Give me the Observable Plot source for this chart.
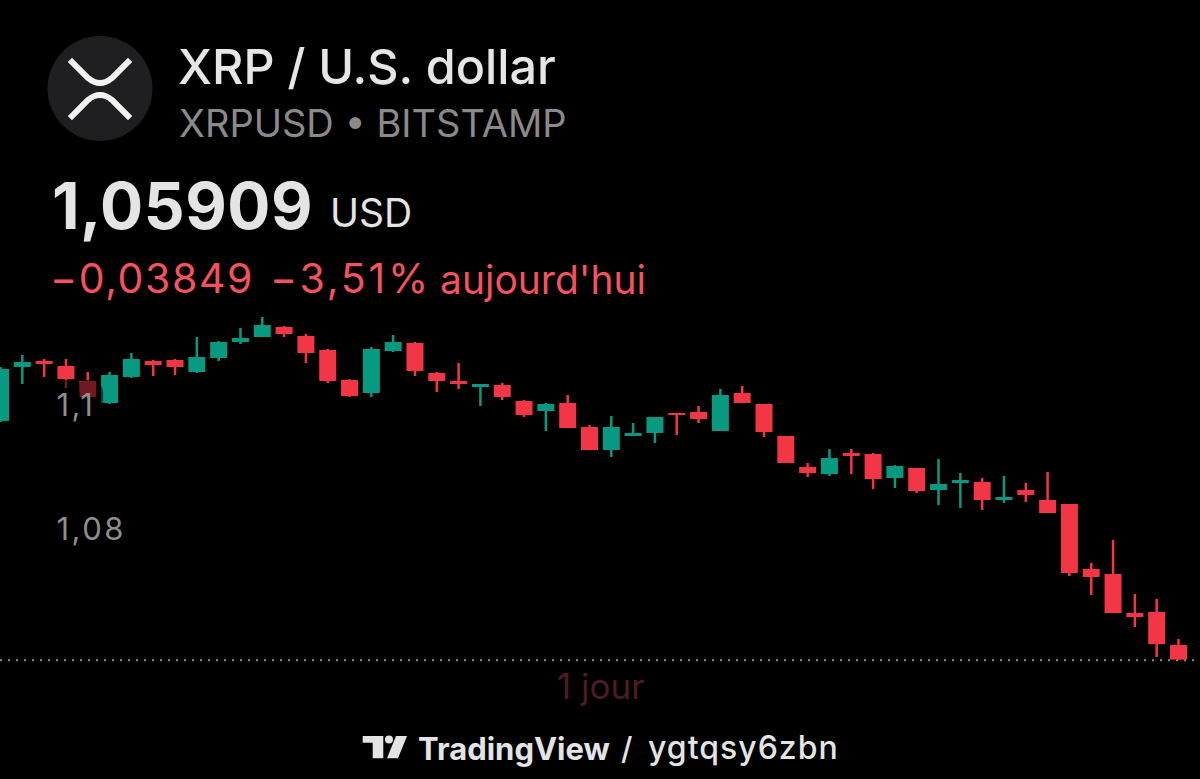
<!DOCTYPE html>
<html>
<head>
<meta charset="utf-8">
<script src="https://cdn.jsdelivr.net/npm/d3@7"></script>
<script src="https://cdn.jsdelivr.net/npm/@observablehq/plot@0.6"></script>
<style>
  html, body { margin: 0; padding: 0; background: #000; }
  body { width: 1200px; height: 779px; position: relative; overflow: hidden; font-family: Inter, "Noto Sans", sans-serif; }
  .abs { position: absolute; line-height: 1; white-space: nowrap; }
  #title { left: 178px; top: 43px; font-size: 48.5px; font-weight: 500; color: #e6e6e6; }
  #sub { left: 179px; top: 104px; font-size: 38px; font-weight: 400; color: #8a8a8a; }
  #price { left: 52px; top: 174px; font-size: 64px; font-weight: 700; color: #e4e4e4; letter-spacing: 0.5px; }
  #usd { left: 330px; top: 193px; font-size: 39px; font-weight: 400; color: #e4e4e4; }
  .chg { top: 258px; font-size: 41px; font-weight: 400; color: #f4525f; letter-spacing: 1.6px; }
  #chg1 { left: 50px; }
  #chg2 { left: 270px; letter-spacing: 2.8px; }
  #chg3 { left: 440px; font-size: 39px; letter-spacing: 0; top: 260px; }
  #interval { left: 557px; top: 669px; font-size: 35px; color: #4e1c23; }
  .foot { top: 733px; color: #e4e4e4; }
  #tv { left: 418px; font-size: 31px; font-weight: 700; }
  #slash { left: 621px; font-size: 31px; font-weight: 500; }
  #user { left: 648px; font-size: 32px; font-weight: 500; letter-spacing: 1px; top: 732px; }
  #chart { position: absolute; left: 0; top: 300px; }
</style>
</head>
<body>
<svg class="abs" style="left:0;top:0" width="200" height="200">
  <circle cx="100" cy="88.5" r="52.5" fill="#1f1f21"/>
  <path d="M72,62 L88,78 Q100,88 112,78 L128,62" fill="none" stroke="#f2f2f2" stroke-width="6" stroke-linecap="square"/>
  <path d="M72,116 L88,100 Q100,90 112,100 L128,116" fill="none" stroke="#f2f2f2" stroke-width="6" stroke-linecap="square"/>
</svg>
<div id="title" class="abs">XRP / U.S. dollar</div>
<div id="sub" class="abs">XRPUSD • BITSTAMP</div>
<div id="price" class="abs">1,05909</div>
<div id="usd" class="abs">USD</div>
<div id="chg1" class="abs chg">−0,03849</div>
<div id="chg2" class="abs chg">−3,51%</div>
<div id="chg3" class="abs chg">aujourd'hui</div>
<div id="chart"></div>
<div id="interval" class="abs">1 jour</div>
<svg class="abs" style="left:350px;top:725px" width="70" height="45">
  <path d="M12.7,11 H33.3 V33.3 H22.7 V17.7 H12.7 Z" fill="#e4e4e4"/>
  <circle cx="39" cy="14.5" r="4" fill="#e4e4e4"/>
  <path d="M46,11 H57 L48,33.3 H37 Z" fill="#e4e4e4"/>
</svg>
<div id="tv" class="abs foot">TradingView</div>
<div id="slash" class="abs foot">/</div>
<div id="user" class="abs foot">ygtqsy6zbn</div>
<script>
// Candle data (price, USD), oldest to newest
const opens  = [1.09758,1.10629,1.10726,1.10645,1.10403,1.10048,1.10468,1.10726,1.10742,1.10548,
                1.10774,1.11032,1.11113,1.11274,1.11129,1.10903,1.10419,1.10210,1.10887,1.11016,
                1.10532,1.10403,1.10306,1.10339,1.10081,1.09919,1.10048,1.09661,1.09290,1.09516,
                1.09565,1.09887,1.09903,1.09597,1.10210,1.10032,1.09516,1.09016,1.08903,1.09242,
                1.09226,1.08839,1.09000,1.08645,1.08758,1.08774,1.08484,1.08645,1.08484,1.08419,
                1.07371,1.07290,1.06661,1.06677,1.06145];
const highs  = [1.10629,1.10823,1.10758,1.10758,1.10548,1.10548,1.10855,1.10742,1.10758,1.11113,
                1.11048,1.11258,1.11435,1.11290,1.11161,1.10919,1.10435,1.10952,1.11145,1.11032,
                1.10548,1.10694,1.10355,1.10371,1.10097,1.10048,1.10177,1.09694,1.09839,1.09726,
                1.09823,1.09887,1.10000,1.10274,1.10323,1.10032,1.09516,1.09081,1.09306,1.09306,
                1.09242,1.09048,1.09000,1.09145,1.08919,1.08839,1.08871,1.08758,1.08935,1.08419,
                1.07468,1.07839,1.06968,1.06887,1.06242];
const lows   = [1.09742,1.10355,1.10468,1.10290,1.10129,1.10032,1.10452,1.10484,1.10500,1.10532,
                1.10726,1.11000,1.11113,1.11113,1.10694,1.10371,1.10145,1.10145,1.10871,1.10484,
                1.10226,1.10274,1.10000,1.10097,1.09823,1.09597,1.09645,1.09290,1.09177,1.09516,
                1.09403,1.09532,1.09726,1.09597,1.10048,1.09500,1.09081,1.08855,1.08871,1.08903,
                1.08661,1.08677,1.08597,1.08403,1.08355,1.08323,1.08435,1.08452,1.08274,1.07258,
                1.06952,1.06661,1.06435,1.05952,1.05909];
const closes = [1.10597,1.10710,1.10677,1.10435,1.10145,1.10500,1.10758,1.10661,1.10629,1.10790,
                1.11032,1.11097,1.11306,1.11161,1.10855,1.10403,1.10161,1.10919,1.11032,1.10565,
                1.10403,1.10355,1.10355,1.10145,1.09855,1.10032,1.09645,1.09290,1.09661,1.09565,
                1.09823,1.09855,1.09790,1.10177,1.10048,1.09581,1.09081,1.08919,1.09161,1.09194,
                1.08823,1.09032,1.08629,1.08742,1.08806,1.08484,1.08532,1.08565,1.08274,1.07306,
                1.07242,1.06661,1.06597,1.06161,1.05909];
const tickValues = [1.10, 1.08];
const tickLabels = ["1,1", "1,08"];
const lastPrice = 1.05909;

const UP = "#089981";
const DOWN = "#f23645";

const candles = opens.map((o, i) => ({i, open: o, high: highs[i], low: lows[i], close: closes[i]}));
const ticks = tickValues.map((v, i) => ({value: v, label: tickLabels[i]}));
const isUp = d => d.close >= d.open;
const isDown = d => d.close < d.open;

const chart = Plot.plot({
  width: 1200,
  height: 400,
  margin: 0,
  x: {domain: [0, candles.length - 1], range: [0, 1178], axis: null},
  y: {domain: [1.08, 1.10], range: [230, 106], axis: null},
  style: {background: "transparent", fontFamily: "Inter, sans-serif", letterSpacing: "2.5px"},
  marks: [
    Plot.ruleY([lastPrice], {stroke: "#8a8a8a", strokeWidth: 2, strokeDasharray: "2,6"}),
    Plot.ruleX(candles, {filter: isUp, x: "i", y1: "low", y2: "high", stroke: UP, strokeWidth: 2.5}),
    Plot.ruleX(candles, {filter: isDown, x: "i", y1: "low", y2: "high", stroke: DOWN, strokeWidth: 2.5}),
    Plot.ruleX(candles, {filter: isUp, x: "i", y1: "open", y2: "close", stroke: UP, strokeWidth: 17}),
    Plot.ruleX(candles, {filter: isDown, x: "i", y1: "open", y2: "close", stroke: DOWN, strokeWidth: 17}),
    Plot.text(ticks, {
      y: "value", text: "label", frameAnchor: "left", dx: 56, textAnchor: "start",
      fontSize: 31, fill: "#8e8e8e", stroke: "black", strokeOpacity: 0.55, strokeWidth: 26
    })
  ]
});
document.getElementById("chart").appendChild(chart);
</script>
</body>
</html>
